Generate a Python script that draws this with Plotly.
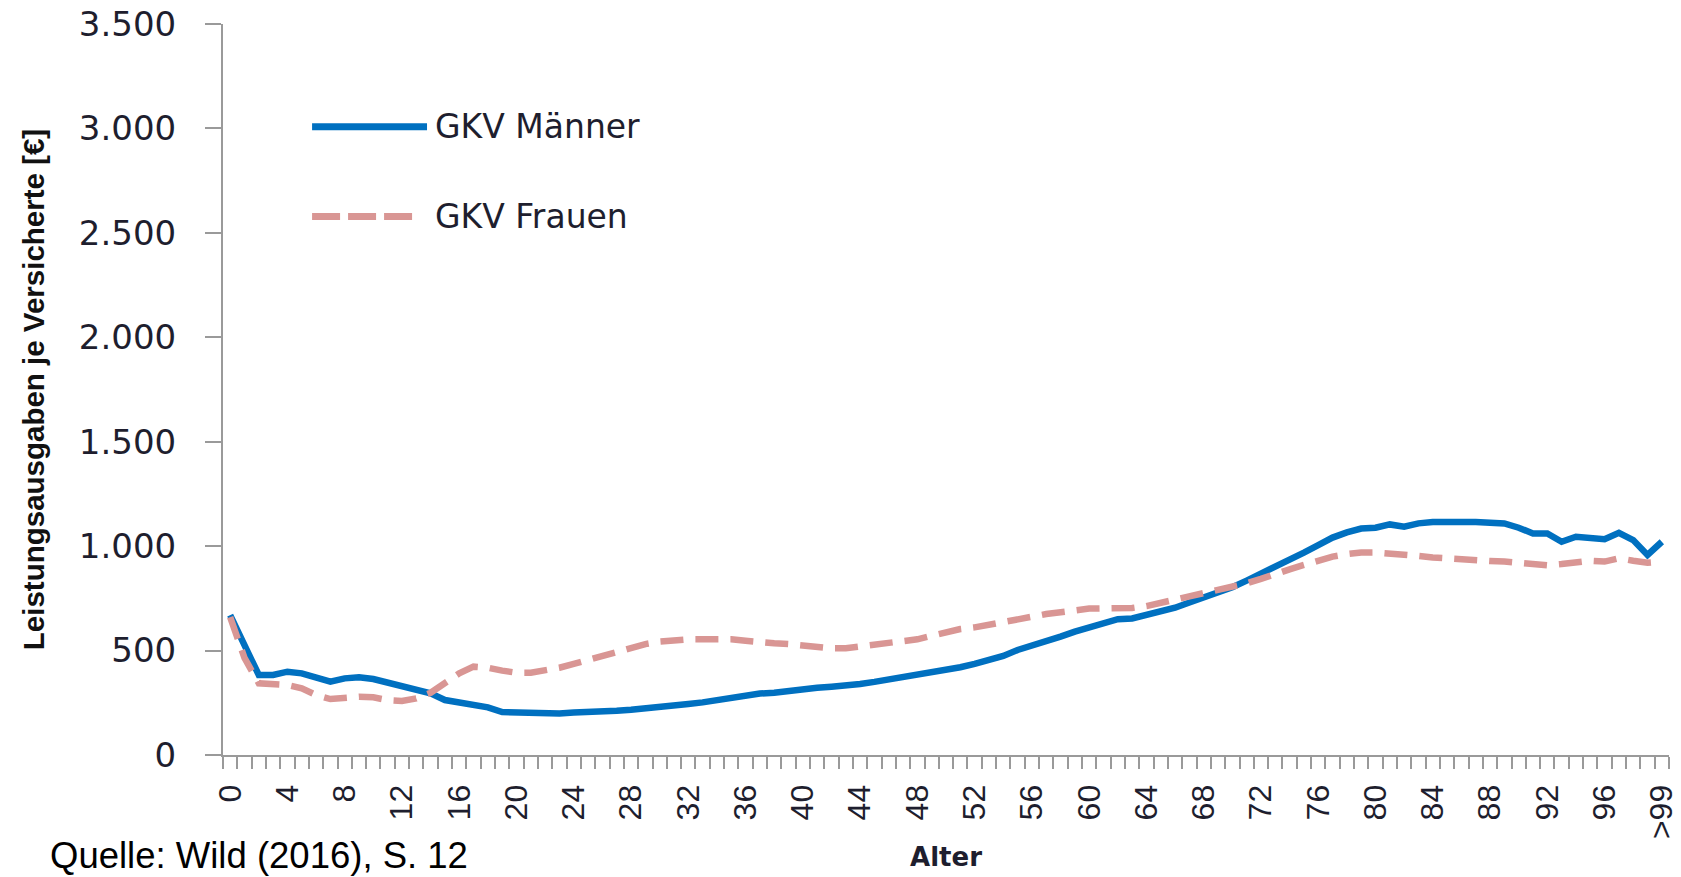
import plotly.graph_objects as go

# ---- data ----
age_labels = [str(a) for a in range(100)] + [">99"]
age_pos = list(range(101))

gkv_maenner = [670, 520, 383, 383, 399, 391, 372, 351, 367, 372,
               364, 348, 332, 318, 295, 263, 251, 244, 228, 206,
               203, 198, 198, 199, 203, 204, 206, 212, 217, 222,
               228, 236, 244, 252, 263, 276, 287, 294, 298, 308,
               316, 322, 327, 332, 340, 350, 361, 372, 381, 393,
               405, 420, 436, 453, 474, 503, 523, 543, 567, 591,
               613, 634, 650, 654, 670, 686, 705, 730, 752, 774,
               803, 835, 867, 899, 934, 969, 1005, 1041, 1066, 1084,
               1088, 1104, 1093, 1109, 1116, 1119, 1116, 1116, 1116, 1109,
               1088, 1061, 1061, 1021, 1045, 1037, 1033, 1064, 1029, 958,
               1021]

gkv_frauen = [660, 465, 343, 338, 335, 319, 287, 268, 276, 279,
              276, 263, 259, 271, 298, 343, 391, 423, 418, 404,
              394, 394, 404, 418, 436, 455, 476, 495, 515, 531,
              543, 551, 554, 554, 556, 554, 547, 539, 535, 531,
              523, 515, 511, 511, 519, 523, 531, 539, 554, 571,
              590, 603, 611, 622, 635, 650, 662, 675, 683, 694,
              701, 702, 702, 704, 713, 729, 745, 760, 777, 790,
              803, 822, 843, 862, 889, 910, 934, 950, 962, 970,
              970, 966, 958, 953, 946, 940, 934, 930, 929, 926,
              921, 913, 908, 914, 922, 930, 926, 942, 930, 921,
              926]

series_names = ["GKV Männer", "GKV Frauen"]
y_tickvals = [0, 500, 1000, 1500, 2000, 2500, 3000, 3500]
x_tickvals = age_pos[::4]
x_ticktext = age_labels[::4]

BLUE = "#0070C0"
PINK = "#D99694"
AXIS = "#9A9A9A"
TXT = "#1E1E2E"

fig = go.Figure()
fig.add_trace(go.Scatter(x=age_pos, y=gkv_maenner, mode="lines", name=series_names[0],
                         line=dict(color=BLUE, width=6.5), showlegend=False))
fig.add_trace(go.Scatter(x=age_pos, y=gkv_frauen, mode="lines", name=series_names[1],
                         line=dict(color=PINK, width=6.5, dash="23px,12px"), showlegend=False))

fig.update_layout(
    width=1673, height=869,
    margin=dict(l=215, r=12, t=16, b=122, autoexpand=False),
    paper_bgcolor="white", plot_bgcolor="white",
    separators=",.",
    showlegend=False,
    xaxis=dict(
        range=[-0.5, 100.5], tickmode="array", tickvals=x_tickvals, ticktext=x_ticktext,
        tickangle=-90, ticks="outside", ticklen=12, tickcolor="rgba(0,0,0,0)",
        ticklabelstandoff=3, ticklabeloverflow="allow",
        tickfont=dict(family="Liberation Sans, Arial", size=32, color=TXT),
        showline=True, linecolor=AXIS, linewidth=2, showgrid=False, zeroline=False,
        minor=dict(tickmode="array", tickvals=[k - 0.5 for k in range(102)],
                   ticks="outside", ticklen=12, tickwidth=2, tickcolor=AXIS, showgrid=False),
        title=dict(text="<b>Alter</b>", standoff=10,
                   font=dict(family="DejaVu Sans", size=26, color=TXT)),
        automargin=False,
    ),
    yaxis=dict(
        range=[0, 3500], tickmode="array", tickvals=y_tickvals, tickformat=",d",
        ticks="outside", ticklen=16, tickwidth=2, tickcolor=AXIS,
        ticklabelstandoff=22, ticklabeloverflow="allow",
        tickfont=dict(family="DejaVu Sans, Verdana", size=34, color=TXT),
        showline=True, linecolor=AXIS, linewidth=2, showgrid=False, zeroline=False,
        title=dict(text="<b>Leistungsausgaben je Versicherte [€]</b>", standoff=26,
                   font=dict(family="Liberation Sans, Arial", size=29.5, color="#111")),
        automargin=False,
    ),
)

# legend drawn as line samples + labels (paper coordinates of the plot area)
fig.add_shape(type="line", xref="paper", yref="paper", x0=0.0616, x1=0.1411, y0=0.8595, y1=0.8595,
              line=dict(color=BLUE, width=7))
fig.add_shape(type="line", xref="paper", yref="paper", x0=0.0616, x1=0.1314, y0=0.7365, y1=0.7365,
              line=dict(color=PINK, width=7, dash="28px,8px"))
fig.add_annotation(xref="paper", yref="paper", x=0.1452, y=0.8595, xanchor="left", yanchor="middle",
                   text=series_names[0], showarrow=False,
                   font=dict(family="DejaVu Sans, Verdana", size=33, color=TXT))
fig.add_annotation(xref="paper", yref="paper", x=0.1452, y=0.7365, xanchor="left", yanchor="middle",
                   text=series_names[1], showarrow=False,
                   font=dict(family="DejaVu Sans, Verdana", size=33, color=TXT))

fig.add_annotation(xref="paper", yref="paper", x=-0.121, y=-0.138, xanchor="left", yanchor="middle",
                   text="Quelle: Wild (2016), S. 12", showarrow=False,
                   font=dict(family="Liberation Sans, Arial", size=36.5, color="#000"))

fig.write_html("out.html")
